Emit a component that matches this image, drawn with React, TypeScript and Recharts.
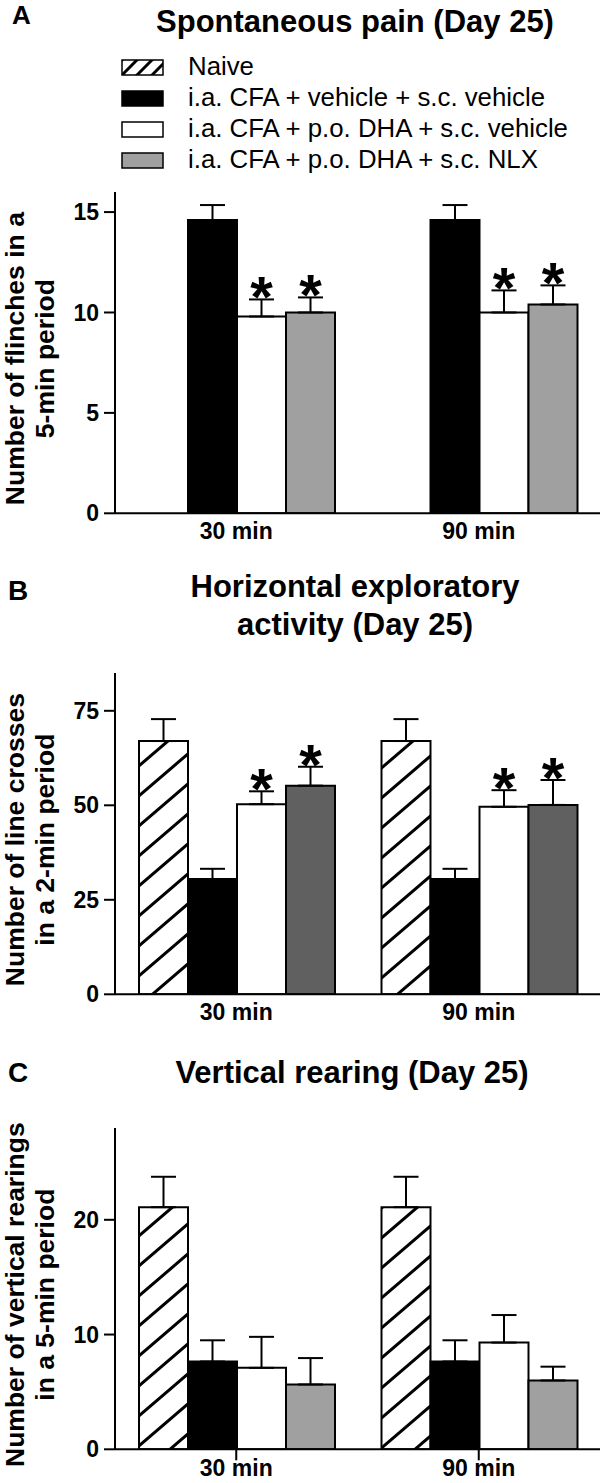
import { BarChart, Bar, XAxis, YAxis, ErrorBar, LabelList } from 'recharts'

const FONT = '"Liberation Sans", Arial, Helvetica, sans-serif'

const groups = ['30 min', '90 min']
const legendNames = [
  'Naive',
  'i.a. CFA + vehicle + s.c. vehicle',
  'i.a. CFA + p.o. DHA + s.c. vehicle',
  'i.a. CFA + p.o. DHA + s.c. NLX',
]

// A - spontaneous pain (flinches / 5 min)
const painNaive = [0, 0]
const painNaiveSem = [0, 0]
const painCfa = [14.6, 14.6]
const painCfaSem = [0.75, 0.75]
const painDha = [9.8, 10.0]
const painDhaSem = [0.85, 1.1]
const painNlx = [10.0, 10.4]
const painNlxSem = [0.75, 0.95]
const painDhaSig = [true, true]
const painNlxSig = [true, true]

// B - horizontal activity (line crosses / 2 min)
const crossNaive = [67, 67]
const crossNaiveSem = [5.8, 5.8]
const crossCfa = [30.5, 30.5]
const crossCfaSem = [2.7, 2.7]
const crossDha = [50.3, 49.6]
const crossDhaSem = [3.4, 4.4]
const crossNlx = [55.2, 50.1]
const crossNlxSem = [5.0, 6.6]
const crossDhaSig = [true, true]
const crossNlxSig = [true, true]

// C - vertical rearing (rearings / 5 min)
const rearNaive = [21.1, 21.1]
const rearNaiveSem = [2.65, 2.65]
const rearCfa = [7.65, 7.65]
const rearCfaSem = [1.85, 1.85]
const rearDha = [7.1, 9.3]
const rearDhaSem = [2.7, 2.4]
const rearNlx = [5.65, 6.0]
const rearNlxSem = [2.3, 1.2]
const rearDhaSig = [false, false]
const rearNlxSig = [false, false]

const painTicks = [0, 5, 10, 15]
const crossTicks = [0, 25, 50, 75]
const rearTicks = [0, 10, 20]

function makeRows(
  naive: number[], naiveSem: number[], cfa: number[], cfaSem: number[],
  dha: number[], dhaSem: number[], nlx: number[], nlxSem: number[],
  dhaSig: boolean[], nlxSig: boolean[],
) {
  return groups.map((g, i) => ({
    group: g,
    naive: naive[i], naiveErr: [0, naiveSem[i]],
    cfa: cfa[i], cfaErr: [0, cfaSem[i]],
    dha: dha[i], dhaErr: [0, dhaSem[i]],
    nlx: nlx[i], nlxErr: [0, nlxSem[i]],
    dhaSig: dhaSig[i], nlxSig: nlxSig[i],
  }))
}

const painRows = makeRows(painNaive, painNaiveSem, painCfa, painCfaSem, painDha, painDhaSem, painNlx, painNlxSem, painDhaSig, painNlxSig)
const crossRows = makeRows(crossNaive, crossNaiveSem, crossCfa, crossCfaSem, crossDha, crossDhaSem, crossNlx, crossNlxSem, crossDhaSig, crossNlxSig)
const rearRows = makeRows(rearNaive, rearNaiveSem, rearCfa, rearCfaSem, rearDha, rearDhaSem, rearNlx, rearNlxSem, rearDhaSig, rearNlxSig)

function XTick(props: any) {
  const { x, y, payload, dy } = props
  return (
    <text x={x} y={Number(y) + dy} textAnchor="middle" fontSize={23} fontWeight="bold" fontFamily={FONT} fill="#000">
      {payload.value}
    </text>
  )
}

function yTitle(lines: string[]) {
  return (p: any) => {
    const vb = p.viewBox || {}
    const cy = (vb.y ?? 0) + (vb.height ?? 0) / 2 + 6
    return (
      <g>
        {lines.map((l, i) => (
          <text key={l} x={24 + i * 30} y={cy} transform={`rotate(-90, ${24 + i * 30}, ${cy})`} textAnchor="middle"
            fontSize={26.5} fontWeight="bold" fontFamily={FONT} fill="#000">{l}</text>
        ))}
      </g>
    )
  }
}

function starLabel(rows: any[], key: string) {
  return (p: any) => {
    const row = rows[p.index]
    if (!row || !row[key + 'Sig']) return null
    const v = row[key]
    const h = Number(p.height)
    const capY = Number(p.y) - row[key + 'Err'][1] * h / v
    return (
      <text x={Number(p.x) + Number(p.width) / 2} y={capY + 18} textAnchor="middle" fontSize={58}
        fontWeight="bold" fontFamily={FONT} fill="#000">*</text>
    )
  }
}

type PanelProps = {
  top: number
  height: number
  plotTop: number
  plotBottom: number
  rows: any[]
  yMax: number
  ticks: number[]
  title: string[]
  gray: string
  xTicks: boolean
}

function Panel({ top, height, plotTop, plotBottom, rows, yMax, ticks, title, gray, xTicks }: PanelProps) {
  const keys = ['naive', 'cfa', 'dha', 'nlx']
  const fills = ['url(#hatch)', '#000', '#fff', gray]
  return (
    <div style={{ position: 'absolute', left: 0, top }}>
      <BarChart width={600} height={height} data={rows} margin={{ top: plotTop - top, right: 0, bottom: 0, left: 0 }}
        barCategoryGap={24} barGap={0}>
        <defs>
          <pattern id="hatch" patternUnits="userSpaceOnUse" width={35} height={30}>
            <rect width={35} height={30} fill="#fff" />
            <path d="M0,30 L35,0 M-3.5,3 L3.5,-3 M31.5,33 L38.5,27" stroke="#000" strokeWidth={3} />
          </pattern>
        </defs>
        <XAxis dataKey="group" height={height - (plotBottom - top)} interval={0}
          axisLine={{ stroke: '#000', strokeWidth: 2 }}
          tickLine={xTicks ? { stroke: '#000', strokeWidth: 2 } : false}
          tickSize={xTicks ? 11 : 0} tickMargin={0}
          tick={<XTick dy={xTicks ? 16 : 26} />} />
        <YAxis width={115} domain={[0, yMax]} ticks={ticks} allowDataOverflow interval={0}
          tickSize={11} tickMargin={5}
          axisLine={{ stroke: '#000', strokeWidth: 2 }} tickLine={{ stroke: '#000', strokeWidth: 2 }}
          tick={{ fontSize: 23, fontWeight: 'bold', fill: '#000', fontFamily: FONT }}
          label={yTitle(title)} />
        {keys.map((k, i) => (
          <Bar key={k} dataKey={k} fill={fills[i]} stroke="#000" strokeWidth={2} isAnimationActive={false}>
            <ErrorBar dataKey={k + 'Err'} width={12.5} stroke="#000" strokeWidth={2} direction="y" />
            {(k === 'dha' || k === 'nlx') && <LabelList dataKey={k} content={starLabel(rows, k)} />}
          </Bar>
        ))}
      </BarChart>
    </div>
  )
}

function Overlay() {
  const swatch = ['url(#hatchSmall)', '#000', '#fff', '#a0a0a0']
  const rowTops = [60, 91, 122, 153]
  const bold = { fontFamily: FONT, fontWeight: 'bold' as const, fill: '#000' }
  return (
    <svg width={600} height={1483} style={{ position: 'absolute', left: 0, top: 0, pointerEvents: 'none' }}>
      <defs>
        <pattern id="hatchSmall" patternUnits="userSpaceOnUse" width={15} height={15} x={122} y={60}>
          <rect width={15} height={15} fill="#fff" />
          <path d="M0,15 L15,0 M-2,2 L2,-2 M13,17 L17,13" stroke="#000" strokeWidth={3} />
        </pattern>
      </defs>
      <text x={12} y={24} fontSize={26} {...bold}>A</text>
      <text x={355} y={32} fontSize={31} textAnchor="middle" {...bold}>Spontaneous pain (Day 25)</text>
      {legendNames.map((n, i) => (
        <g key={n}>
          <rect x={122} y={rowTops[i]} width={41} height={15} fill={swatch[i]} stroke="#000" strokeWidth={1.5} />
          <text x={188} y={rowTops[i] + 15} fontSize={25.8} fontFamily={FONT} fill="#000">{n}</text>
        </g>
      ))}
      <text x={8} y={600} fontSize={28} {...bold}>B</text>
      <text x={355} y={597} fontSize={31} textAnchor="middle" {...bold}>Horizontal exploratory</text>
      <text x={355} y={635} fontSize={31} textAnchor="middle" {...bold}>activity (Day 25)</text>
      <text x={8} y={1082} fontSize={28} {...bold}>C</text>
      <text x={352} y={1083} fontSize={31} textAnchor="middle" {...bold}>Vertical rearing (Day 25)</text>
    </svg>
  )
}

export default function App() {
  return (
    <div style={{ position: 'absolute', left: 0, top: 0, width: 600, height: 1483, background: '#fff', overflow: 'hidden' }}>
      <Panel top={0} height={555} plotTop={192} plotBottom={513.3} rows={painRows} yMax={16} ticks={painTicks}
        title={['Number of flinches in a', '5-min period']} gray="#a0a0a0" xTicks={false} />
      <Panel top={555} height={470} plotTop={673} plotBottom={994.3} rows={crossRows} yMax={85} ticks={crossTicks}
        title={['Number of line crosses', 'in a 2-min period']} gray="#606060" xTicks={false} />
      <Panel top={1025} height={458} plotTop={1128} plotBottom={1449.3} rows={rearRows} yMax={28} ticks={rearTicks}
        title={['Number of vertical rearings', 'in a 5-min period']} gray="#a0a0a0" xTicks={true} />
      <Overlay />
    </div>
  )
}
